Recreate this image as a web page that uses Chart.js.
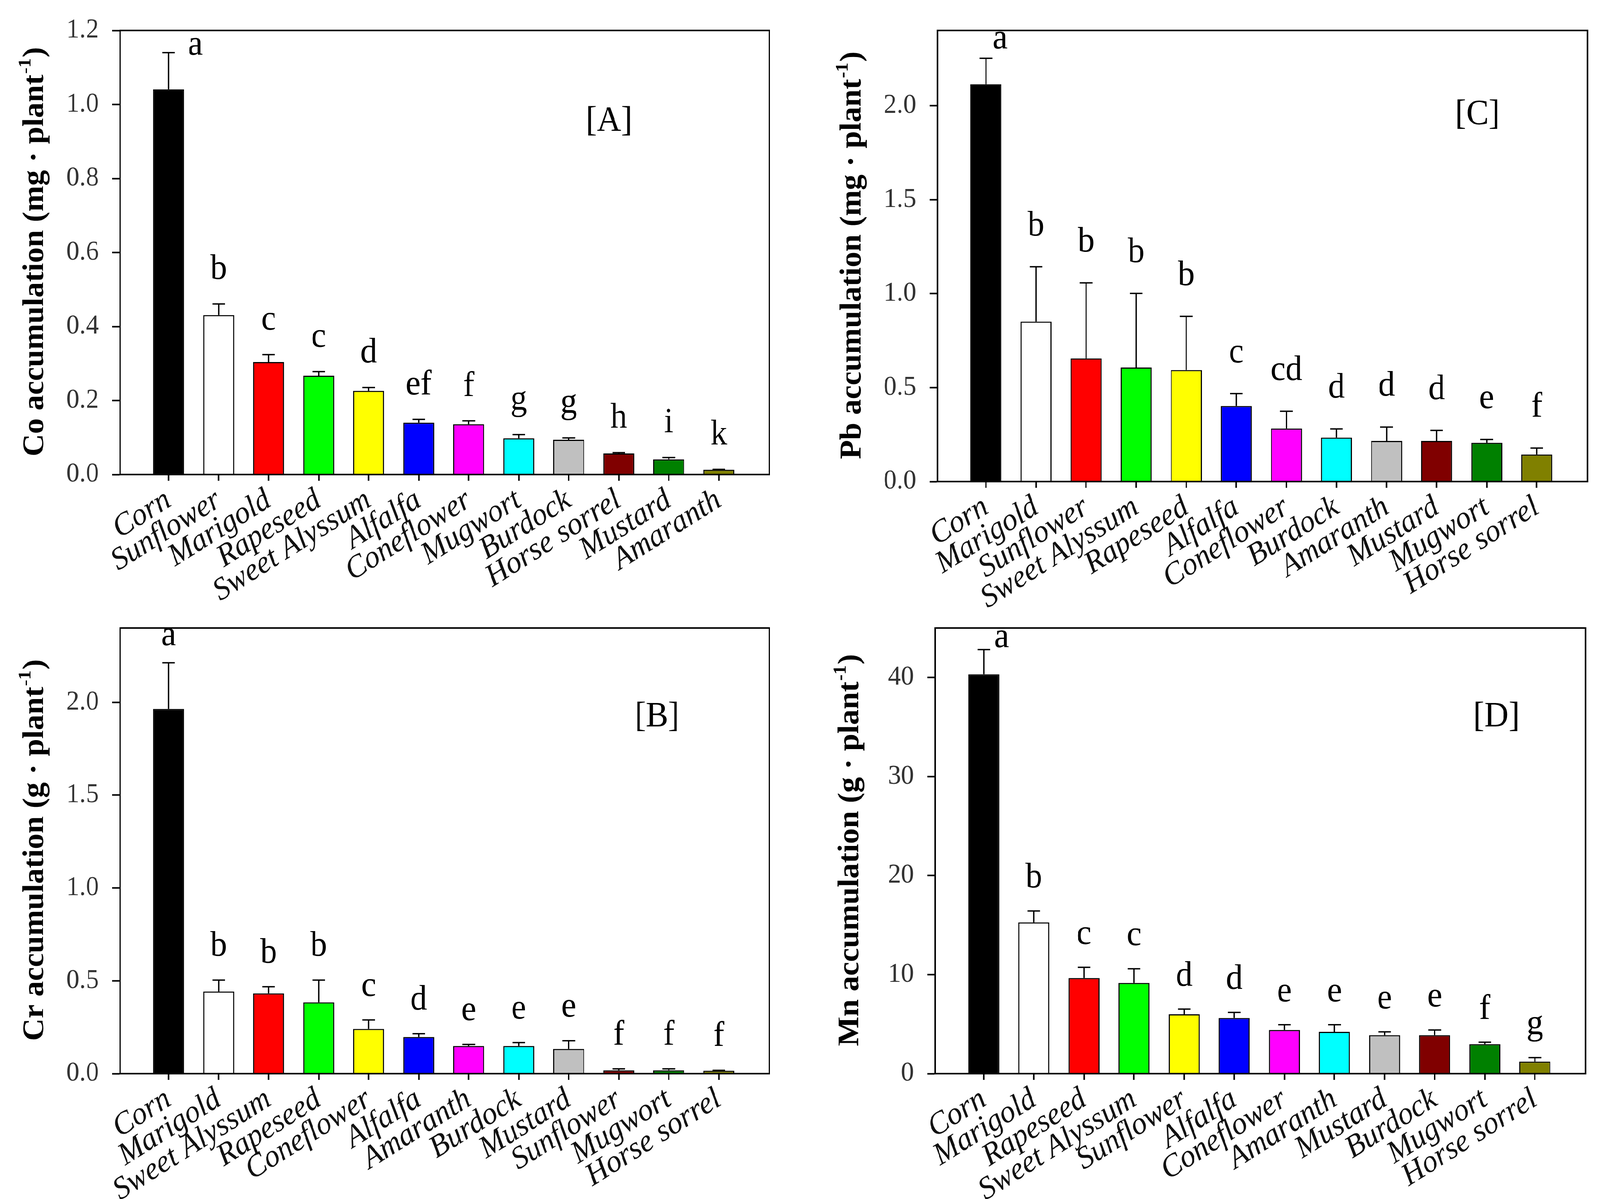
<!DOCTYPE html>
<html>
<head>
<meta charset="utf-8">
<script src="https://cdn.jsdelivr.net/npm/chart.js@4.4.1/dist/chart.umd.min.js"></script>
<style>
  html, body { margin: 0; padding: 0; background: #fff; overflow: hidden; }
  #sheet { width: 4303px; height: 3070px; position: relative; transform-origin: 0 0; }
  canvas { position: absolute; }
</style>
</head>
<body>
<div id="sheet">
<canvas id="panelA" width="2150" height="1600" style="left:0px;top:0px"></canvas>
<canvas id="panelC" width="2153" height="1600" style="left:2150px;top:0px"></canvas>
<canvas id="panelB" width="2150" height="1540" style="left:0px;top:1530px"></canvas>
<canvas id="panelD" width="2153" height="1540" style="left:2150px;top:1530px"></canvas>
</div>
<script>
// [A] Co accumulation (mg per plant)
const plantsCo = ["Corn", "Sunflower", "Marigold", "Rapeseed", "Sweet Alyssum", "Alfalfa",
    "Coneflower", "Mugwort", "Burdock", "Horse sorrel", "Mustard", "Amaranth"];
const coValues = [1.041, 0.431, 0.304, 0.267, 0.226, 0.140, 0.136, 0.098, 0.094, 0.057, 0.041, 0.013];
const coErrors = [0.099, 0.030, 0.020, 0.011, 0.009, 0.009, 0.009, 0.010, 0.005, 0.002, 0.005, 0.001];
const coLetters = ["a", "b", "c", "c", "d", "ef", "f", "g", "g", "h", "i", "k"];

// [C] Pb accumulation (mg per plant)
const plantsPb = ["Corn", "Marigold", "Sunflower", "Sweet Alyssum", "Rapeseed", "Alfalfa",
    "Coneflower", "Burdock", "Amaranth", "Mustard", "Mugwort", "Horse sorrel"];
const pbValues = [2.114, 0.851, 0.655, 0.607, 0.593, 0.402, 0.282, 0.234, 0.216, 0.216, 0.206, 0.144];
const pbErrors = [0.138, 0.292, 0.402, 0.394, 0.286, 0.066, 0.092, 0.046, 0.074, 0.056, 0.018, 0.034];
const pbLetters = ["a", "b", "b", "b", "b", "c", "cd", "d", "d", "d", "e", "f"];

// [B] Cr accumulation (g per plant)
const plantsCr = ["Corn", "Marigold", "Sweet Alyssum", "Rapeseed", "Coneflower", "Alfalfa",
    "Amaranth", "Burdock", "Mustard", "Sunflower", "Mugwort", "Horse sorrel"];
const crValues = [1.964, 0.442, 0.432, 0.384, 0.241, 0.197, 0.149, 0.149, 0.133, 0.018, 0.018, 0.016];
const crErrors = [0.249, 0.062, 0.036, 0.120, 0.048, 0.018, 0.008, 0.018, 0.044, 0.008, 0.008, 0.002];
const crLetters = ["a", "b", "b", "b", "c", "d", "e", "e", "e", "f", "f", "f"];

// [D] Mn accumulation (g per plant)
const plantsMn = ["Corn", "Marigold", "Rapeseed", "Sweet Alyssum", "Sunflower", "Alfalfa",
    "Coneflower", "Amaranth", "Mustard", "Burdock", "Mugwort", "Horse sorrel"];
const mnValues = [40.33, 15.27, 9.65, 9.16, 5.99, 5.62, 4.41, 4.22, 3.88, 3.88, 2.98, 1.21];
const mnErrors = [2.49, 1.16, 1.09, 1.43, 0.53, 0.56, 0.53, 0.72, 0.34, 0.53, 0.19, 0.41];
const mnLetters = ["a", "b", "c", "c", "d", "d", "e", "e", "e", "e", "f", "g"];

// bar fill by rank position (same in every panel)
const barColors = ["#000000", "#ffffff", "#ff0000", "#00ff00", "#ffff00", "#0000ff",
    "#ff00ff", "#00ffff", "#c0c0c0", "#800000", "#008000", "#808000"];

const SERIF = "'Liberation Serif', 'Times New Roman', serif";

// the window may come up narrower than the sheet; stretch the sheet onto it
const sx = window.innerWidth / 4303, sy = window.innerHeight / 3070;
if (Math.abs(sx - 1) > 0.001 || Math.abs(sy - 1) > 0.001) {
    document.getElementById("sheet").style.transform = "scale(" + sx + "," + sy + ")";
}

const decorations = {
    id: "decorations",
    afterDatasetsDraw(chart, args, opts) {
        const {ctx} = chart;
        const xs = chart.scales.x, ys = chart.scales.y;
        ctx.save();
        ctx.strokeStyle = "#000";
        ctx.lineWidth = 3.5;
        opts.values.forEach((v, i) => {
            const x = xs.getPixelForValue(i);
            const yBar = ys.getPixelForValue(v);
            const yTop = ys.getPixelForValue(v + opts.errors[i]);
            ctx.beginPath();
            ctx.moveTo(x, yBar);
            ctx.lineTo(x, yTop);
            ctx.moveTo(x - 17, yTop);
            ctx.lineTo(x + 17, yTop);
            ctx.stroke();
        });
        ctx.restore();
    },
    afterDraw(chart, args, opts) {
        const {ctx, chartArea: a} = chart;
        const xs = chart.scales.x, ys = chart.scales.y;
        ctx.save();
        // frame round the plot
        ctx.strokeStyle = "#000";
        ctx.lineWidth = 4;
        ctx.strokeRect(a.left, a.top, a.right - a.left, a.bottom - a.top);

        // significance letters
        ctx.fillStyle = "#000";
        ctx.font = "90px " + SERIF;
        ctx.textAlign = "center";
        ctx.textBaseline = "alphabetic";
        opts.letters.forEach((t, i) => {
            const x = xs.getPixelForValue(i);
            const yTop = ys.getPixelForValue(opts.values[i] + opts.errors[i]);
            if (i === 0) {
                ctx.fillText(t, x + opts.firstDx, yTop - opts.firstGap);
            } else {
                ctx.fillText(t, x, yTop - opts.gap);
            }
        });

        // panel tag
        ctx.font = "90px " + SERIF;
        ctx.textBaseline = "middle";
        ctx.fillText(opts.tag, a.left + (a.right - a.left) * opts.tagX, a.top + (a.bottom - a.top) * opts.tagY);

        // y title with superscript
        ctx.translate(a.left - 207, (a.top + a.bottom) / 2);
        ctx.rotate(-Math.PI / 2);
        ctx.textAlign = "left";
        ctx.textBaseline = "alphabetic";
        const big = "bold 80px " + SERIF, small = "bold 48px " + SERIF;
        ctx.font = big;
        const w1 = ctx.measureText(opts.title).width;
        const w3 = ctx.measureText(")").width;
        ctx.font = small;
        const w2 = ctx.measureText("-1").width;
        const x0 = -(w1 + w2 + w3) / 2;
        ctx.font = big;
        ctx.fillText(opts.title, x0, 0);
        ctx.font = small;
        ctx.fillText("-1", x0 + w1 + 2, -34);
        ctx.font = big;
        ctx.fillText(")", x0 + w1 + w2 + 4, 0);
        ctx.restore();
    }
};

function makePanel(id, names, values, errors, letters, cfg) {
    const canvas = document.getElementById(id);
    const W = canvas.width;
    return new Chart(canvas, {
        type: "bar",
        data: {
            datasets: [{
                data: values.map((v, i) => ({x: i, y: v})),
                backgroundColor: barColors,
                borderColor: "#000",
                borderWidth: 3,
                barPercentage: 0.62,
                categoryPercentage: 1
            }]
        },
        options: {
            responsive: false,
            animation: false,
            devicePixelRatio: 1,
            layout: {padding: {top: cfg.area.top, right: W - cfg.area.right, left: 0, bottom: 0}},
            plugins: {
                legend: {display: false},
                tooltip: {enabled: false},
                decorations: {
                    values: values, errors: errors, letters: letters,
                    gap: cfg.gap, firstDx: cfg.firstDx, firstGap: cfg.firstGap,
                    tag: cfg.tag, tagX: cfg.tagX, tagY: cfg.tagY, title: cfg.title
                }
            },
            scales: {
                x: {
                    type: "linear",
                    offset: false,
                    min: -0.97,
                    max: 12.01,
                    afterBuildTicks: s => { s.ticks = names.map((n, i) => ({value: i})); },
                    afterFit: s => { s.height = canvas.height - cfg.area.bottom; },
                    ticks: {
                        autoSkip: false,
                        minRotation: 31,
                        maxRotation: 31,
                        padding: 2,
                        color: "#111",
                        font: {family: SERIF, style: "italic", size: 81},
                        callback: v => names[v]
                    },
                    grid: {offset: false, drawOnChartArea: false, tickLength: 16, tickWidth: 4, tickColor: "#000"},
                    border: {color: "#000", width: 4}
                },
                y: {
                    min: 0,
                    max: cfg.yMax,
                    afterFit: s => { s.width = cfg.area.left; },
                    ticks: {
                        stepSize: cfg.step,
                        includeBounds: false,
                        padding: 36,
                        color: "#333",
                        font: {family: SERIF, size: 70},
                        callback: v => v.toFixed(cfg.decimals)
                    },
                    grid: {drawOnChartArea: false, tickLength: 21, tickWidth: 4, tickColor: "#000"},
                    border: {color: "#000", width: 4}
                }
            }
        },
        plugins: [decorations]
    });
}

makePanel("panelA", plantsCo, coValues, coErrors, coLetters, {
    area: {left: 323, top: 43, right: 2069, bottom: 1215},
    yMax: 1.2, step: 0.2, decimals: 1,
    gap: 64, firstDx: 72, firstGap: -5,
    tag: "[A]", tagX: 0.753, tagY: 0.205,
    title: "Co accumulation (mg · plant"
});
makePanel("panelC", plantsPb, pbValues, pbErrors, pbLetters, {
    area: {left: 371, top: 55, right: 2119, bottom: 1233},
    yMax: 2.4, step: 0.5, decimals: 1,
    gap: 80, firstDx: 38, firstGap: 25,
    tag: "[C]", tagX: 0.831, tagY: 0.187,
    title: "Pb accumulation (mg · plant"
});
makePanel("panelB", plantsCr, crValues, crErrors, crLetters, {
    area: {left: 323, top: 45, right: 2069, bottom: 1219},
    yMax: 2.4, step: 0.5, decimals: 1,
    gap: 62, firstDx: 0, firstGap: 45,
    tag: "[B]", tagX: 0.827, tagY: 0.2,
    title: "Cr accumulation (g · plant"
});
makePanel("panelD", plantsMn, mnValues, mnErrors, mnLetters, {
    area: {left: 365, top: 45, right: 2114, bottom: 1219},
    yMax: 45, step: 10, decimals: 0,
    gap: 60, firstDx: 48, firstGap: 6,
    tag: "[D]", tagX: 0.863, tagY: 0.2,
    title: "Mn accumulation (g · plant"
});
</script>
</body>
</html>
